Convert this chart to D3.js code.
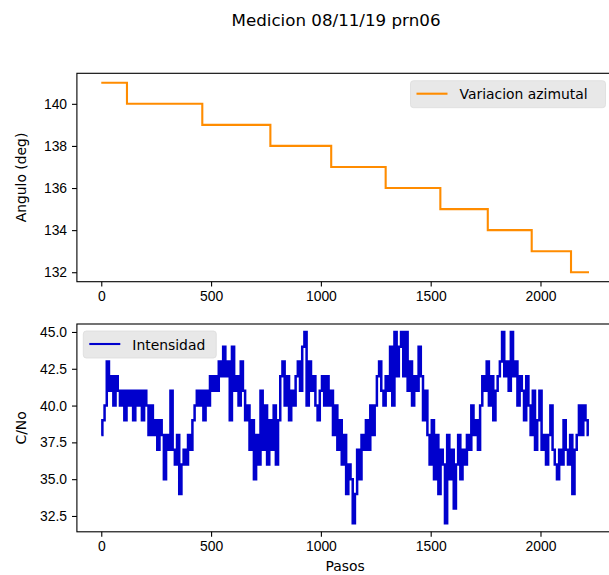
<!DOCTYPE html>
<html>
<head>
<meta charset="utf-8">
<script src="https://cdn.jsdelivr.net/npm/d3@7/dist/d3.min.js"></script>
<style>
	body { margin: 0; background: #fff; }
	svg { display: block; font-family: "DejaVu Sans", sans-serif; }
	.tick text { font-size: 13.9px; fill: #000; }
</style>
</head>
<body>
<svg id="chart" width="609" height="575"></svg>
<script>
	// azimuth steps: paso where each level starts
	var azStart = [ 0, 117, 460, 770, 1047, 1295, 1544, 1760, 1960, 2139 ];
	var azValue = [ 141, 140, 139, 138, 137, 136, 135, 134, 133, 132 ];
	var azEnd = 2221;

	// C/No samples, one every 10 pasos
	var cnoStep = 10;
	var cnoValues = [ 38, 39, 40, 43, 41, 42, 40, 42, 41, 40, 41, 39, 41, 40, 41, 39, 41, 40, 41, 39,
			41, 40, 38, 40, 38, 39, 37, 39, 38, 35, 38, 37, 41, 37, 36, 38, 34, 36, 37, 36,
			38, 37, 39, 40, 41, 40, 41, 39, 41, 40, 42, 41, 42, 41, 43, 42, 44, 42, 43, 39,
			44, 41, 42, 40, 43, 41, 39, 40, 37, 39, 35, 38, 36, 41, 37, 40, 36, 39, 37, 40,
			36, 39, 42, 43, 40, 42, 39, 41, 40, 42, 43, 41, 44, 45, 40, 43, 41, 42, 40, 39,
			41, 42, 40, 42, 40, 41, 38, 40, 37, 39, 36, 38, 34, 36, 35, 32, 34, 37, 35, 38,
			37, 39, 37, 40, 38, 40, 42, 43, 41, 40, 42, 41, 44, 40, 45, 42, 44, 45, 42, 45,
			41, 43, 40, 42, 41, 44, 42, 39, 41, 38, 36, 39, 35, 38, 34, 37, 36, 32, 38, 35,
			37, 33, 36, 38, 35, 37, 36, 38, 37, 40, 38, 39, 37, 40, 42, 41, 43, 40, 42, 39,
			41, 42, 43, 45, 42, 43, 41, 45, 42, 43, 40, 42, 41, 39, 42, 40, 38, 41, 37, 39,
			41, 37, 38, 36, 38, 40, 37, 36, 35, 37, 36, 39, 37, 36, 38, 34, 37, 38, 40, 38,
			40, 39, 38 ];

	var xTicks = [ 0, 500, 1000, 1500, 2000 ];
	var azTicks = [ 132, 134, 136, 138, 140 ];
	var cnoTicks = [ 32.5, 35.0, 37.5, 40.0, 42.5, 45.0 ];

	var svg = d3.select("#chart");
	var left = 76.9, right = 613.4;
	var tickLen = 4.9;

	var xScale = d3.scaleLinear().domain([ -111, 2332 ]).range([ left, right ]);

	function drawAxes(g, yScale, top, bottom, yTicks, yFormat) {
		g.append("g").attr("transform", "translate(0," + bottom + ")")//
		.call(d3.axisBottom(xScale).tickValues(xTicks).tickFormat(d3.format("d")).tickSize(tickLen).tickPadding(4.9))//
		.call(function(a) {
			a.select(".domain").remove();
			a.selectAll(".tick line").attr("stroke", "#000").attr("stroke-width", 1.1);
		});
		g.append("g").attr("transform", "translate(" + left + ",0)")//
		.call(d3.axisLeft(yScale).tickValues(yTicks).tickFormat(yFormat).tickSize(tickLen).tickPadding(4.9))//
		.call(function(a) {
			a.select(".domain").remove();
			a.selectAll(".tick line").attr("stroke", "#000").attr("stroke-width", 1.1);
		});
		g.append("rect").attr("x", left).attr("y", top)//
		.attr("width", right - left).attr("height", bottom - top)//
		.attr("fill", "none").attr("stroke", "#000").attr("stroke-width", 1.1);
	}

	function drawLegend(g, x, y, w, label, color) {
		g.append("rect").attr("x", x).attr("y", y).attr("width", w).attr("height", 27)//
		.attr("rx", 3).attr("fill", "#e8e8e8").attr("stroke", "#dcdcdc").attr("stroke-width", 0.8);
		g.append("line").attr("x1", x + 6).attr("x2", x + 37).attr("y1", y + 13).attr("y2", y + 13)//
		.attr("stroke", color).attr("stroke-width", 2.1);
		g.append("text").attr("x", x + 49).attr("y", y + 18.5)//
		.style("font-size", "13.9px").attr("fill", "#000").text(label);
	}

	// title
	svg.append("text").attr("x", 336).attr("y", 26).attr("text-anchor", "middle")//
	.style("font-size", "16.7px").attr("fill", "#000").text("Medicion 08/11/19 prn06");

	// top panel: azimuth
	var topTop = 73.3, topBottom = 281.7;
	var yAz = d3.scaleLinear().domain([ 131.55, 141.45 ]).range([ topBottom, topTop ]);
	var gTop = svg.append("g");
	var azPoints = azStart.map(function(s, i) {
		return [ s, azValue[i] ];
	});
	azPoints.push([ azEnd, azValue[azValue.length - 1] ]);
	gTop.append("path").datum(azPoints)//
	.attr("d", d3.line().x(function(d) {
		return xScale(d[0]);
	}).y(function(d) {
		return yAz(d[1]);
	}).curve(d3.curveStepAfter))//
	.attr("fill", "none").attr("stroke", "#ff8c00").attr("stroke-width", 2.1);
	drawAxes(gTop, yAz, topTop, topBottom, azTicks, d3.format("d"));
	drawLegend(gTop, 410.5, 80.7, 195, "Variacion azimutal", "#ff8c00");
	gTop.append("text").attr("transform", "translate(26," + ((topTop + topBottom) / 2) + ") rotate(-90)")//
	.attr("text-anchor", "middle").style("font-size", "13.9px").attr("fill", "#000").text("Angulo (deg)");

	// bottom panel: C/No
	var botTop = 324, botBottom = 531.8;
	var yCno = d3.scaleLinear().domain([ 31.35, 45.65 ]).range([ 532.9, 322.4 ]);
	var gBot = svg.append("g");
	gBot.append("path").datum(cnoValues)//
	.attr("d", d3.line().x(function(d, i) {
		return xScale(i * cnoStep);
	}).y(function(d) {
		return yCno(d);
	}).curve(d3.curveStep))//
	.attr("fill", "none").attr("stroke", "#0000cd").attr("stroke-width", 2.5);
	drawAxes(gBot, yCno, botTop, botBottom, cnoTicks, d3.format(".1f"));
	drawLegend(gBot, 83.3, 331, 133, "Intensidad", "#0000cd");
	gBot.append("text").attr("transform", "translate(26," + ((botTop + botBottom) / 2) + ") rotate(-90)")//
	.attr("text-anchor", "middle").style("font-size", "13.9px").attr("fill", "#000").text("C/No");
	gBot.append("text").attr("x", (left + right) / 2).attr("y", 570.5).attr("text-anchor", "middle")//
	.style("font-size", "13.9px").attr("fill", "#000").text("Pasos");
</script>
</body>
</html>
